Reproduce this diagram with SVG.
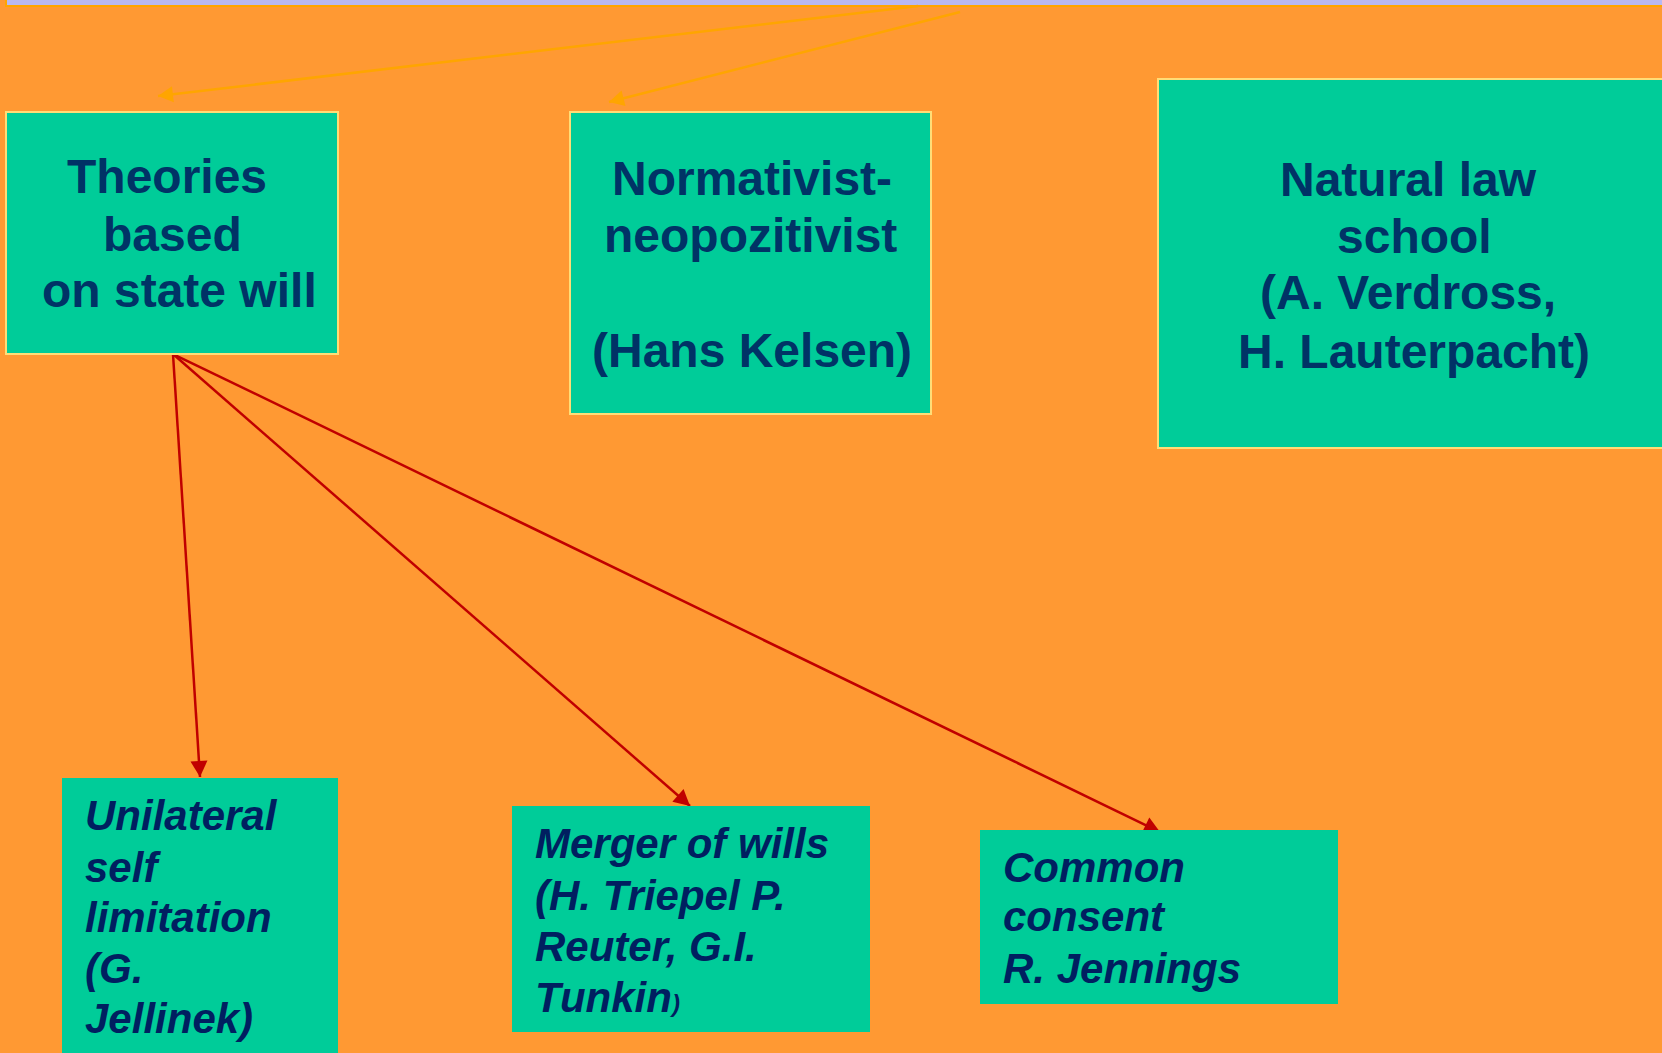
<svg xmlns="http://www.w3.org/2000/svg" width="1662" height="1053" viewBox="0 0 1662 1053">
<defs>
<style>
.bg{fill:#FF9933}
.top{fill:#00CC99;stroke:#FFDD77;stroke-width:2}
.bot{fill:#00CC99}
.tt{font-family:"Liberation Sans",Arial,sans-serif;font-weight:bold;font-size:48px;fill:#003366}
.bt{font-family:"Liberation Sans",Arial,sans-serif;font-weight:bold;font-style:italic;font-size:42px;fill:#001F60}
.red{stroke:#C00000;stroke-width:2.5;fill:none}
.org{stroke:#FFA500;stroke-width:2.5;fill:none}
</style>
<marker id="ar" markerUnits="userSpaceOnUse" markerWidth="20" markerHeight="20" viewBox="0 0 20 20" refX="18" refY="10" orient="auto">
<path d="M2,1.5 L18,10 L2,18.5 Z" fill="#C00000"/>
</marker>
<marker id="ao" markerUnits="userSpaceOnUse" markerWidth="20" markerHeight="20" viewBox="0 0 20 20" refX="17" refY="10" orient="auto">
<path d="M2,2 L17,10 L2,18 Z" fill="#FFA500"/>
</marker>
</defs>
<rect class="bg" x="0" y="0" width="1662" height="1053"/>
<rect x="6" y="-5" width="1670" height="11" fill="#B8B8F2" stroke="#FFA500" stroke-width="2"/>

<g id="connectors">
<line class="org" x1="918" y1="6" x2="158" y2="96" marker-end="url(#ao)"/>
<line class="org" x1="960" y1="12" x2="609" y2="102" marker-end="url(#ao)"/>
<line class="red" x1="173" y1="354" x2="200" y2="777" marker-end="url(#ar)"/>
<line class="red" x1="173" y1="354" x2="690" y2="806" marker-end="url(#ar)"/>
<line class="red" x1="173" y1="354" x2="1160" y2="832" marker-end="url(#ar)"/>
</g>

<g id="node-state-will">
<rect class="top" x="6" y="112" width="332" height="242"/>
<text class="tt"><tspan x="67" y="193">Theories</tspan><tspan x="103" y="251">based</tspan><tspan x="42" y="307">on state will</tspan></text>
</g>

<g id="node-normativist">
<rect class="top" x="570" y="112" width="361" height="302"/>
<text class="tt"><tspan x="612" y="195">Normativist-</tspan><tspan x="604" y="252">neopozitivist</tspan><tspan x="592" y="367">(Hans Kelsen)</tspan></text>
</g>

<g id="node-natural-law">
<rect class="top" x="1158" y="79" width="520" height="369"/>
<text class="tt"><tspan x="1280" y="196">Natural law</tspan><tspan x="1337" y="253">school</tspan><tspan x="1260" y="309">(A. Verdross,</tspan><tspan x="1238" y="368">H. Lauterpacht)</tspan></text>
</g>

<g id="node-unilateral">
<rect class="bot" x="62" y="778" width="276" height="290"/>
<text class="bt"><tspan x="85" y="830">Unilateral</tspan><tspan x="85" y="882">self</tspan><tspan x="85" y="932">limitation</tspan><tspan x="85" y="983">(G.</tspan><tspan x="85" y="1033">Jellinek)</tspan></text>
</g>

<g id="node-merger">
<rect class="bot" x="512" y="806" width="358" height="226"/>
<text class="bt"><tspan x="535" y="858">Merger of wills</tspan><tspan x="535" y="910">(H. Triepel P.</tspan><tspan x="535" y="961">Reuter, G.I.</tspan><tspan x="535" y="1012">Tunkin</tspan><tspan font-size="24" y="1012">)</tspan></text>
</g>

<g id="node-common">
<rect class="bot" x="980" y="830" width="358" height="174"/>
<text class="bt"><tspan x="1003" y="882">Common</tspan><tspan x="1003" y="931">consent</tspan><tspan x="1003" y="983">R. Jennings</tspan></text>
</g>
</svg>
